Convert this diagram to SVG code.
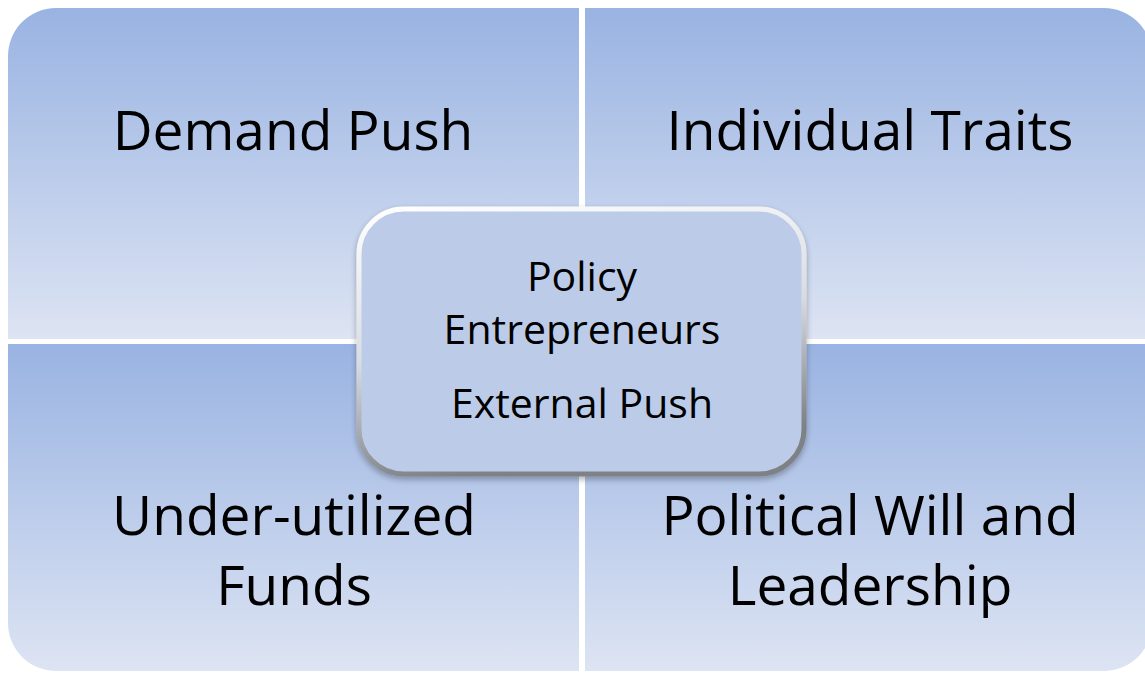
<svg xmlns="http://www.w3.org/2000/svg" width="1145" height="673" viewBox="0 0 1145 673">
  <defs>
    <linearGradient id="tileFill" x1="0" y1="0" x2="0" y2="1">
      <stop offset="0" stop-color="#99B3E2"/>
      <stop offset="1" stop-color="#DDE4F3"/>
    </linearGradient>
    <linearGradient id="bevel" x1="0" y1="0" x2="0.25" y2="1">
      <stop offset="0" stop-color="#FFFFFF"/>
      <stop offset="0.55" stop-color="#D8DCE2"/>
      <stop offset="1" stop-color="#7E8186"/>
    </linearGradient>
    <filter id="softShadow" x="-10%" y="-10%" width="120%" height="125%">
      <feGaussianBlur in="SourceAlpha" stdDeviation="3"/>
      <feOffset dx="0" dy="3" result="b"/>
      <feComponentTransfer><feFuncA type="linear" slope="0.3"/></feComponentTransfer>
      <feMerge><feMergeNode/><feMergeNode in="SourceGraphic"/></feMerge>
    </filter>
  </defs>
  <style>
    .tile { fill: url(#tileFill); }
    .big { font-family: "Open Sans", "Liberation Sans", sans-serif; font-size: 55px; fill: #000; text-anchor: middle; }
    .mid { font-family: "Open Sans", "Liberation Sans", sans-serif; font-size: 41px; fill: #000; text-anchor: middle; }
    .hub { fill: #BCCCE8; stroke: url(#bevel); stroke-width: 5; }
  </style>

  <rect width="1145" height="673" fill="#FFFFFF"/>

  <g id="demand-push">
    <path class="tile" d="M8,56 A48,48 0 0 1 56,8 H579 V339 H8 Z"/>
    <text class="big" x="293" y="150">Demand Push</text>
  </g>

  <g id="individual-traits">
    <path class="tile" d="M585,8 H1104 A48,48 0 0 1 1152,56 V339 H585 Z"/>
    <text class="big" x="870" y="150">Individual Traits</text>
  </g>

  <g id="under-utilized-funds">
    <path class="tile" d="M8,344 H579 V671 H56 A48,48 0 0 1 8,623 Z"/>
    <text class="big" x="294" y="535">Under-utilized</text>
    <text class="big" x="294" y="605">Funds</text>
  </g>

  <g id="political-will">
    <path class="tile" d="M585,344 H1152 V623 A48,48 0 0 1 1104,671 H585 Z"/>
    <text class="big" x="870" y="535">Political Will and</text>
    <text class="big" x="870" y="605">Leadership</text>
  </g>

  <g id="connectors"></g>

  <g id="hub">
    <rect class="hub" x="359" y="209" width="445" height="265" rx="45" ry="45" filter="url(#softShadow)"/>
    <text class="mid" x="582" y="291">Policy</text>
    <text class="mid" x="582" y="344">Entrepreneurs</text>
    <text class="mid" x="582" y="418">External Push</text>
  </g>
</svg>
